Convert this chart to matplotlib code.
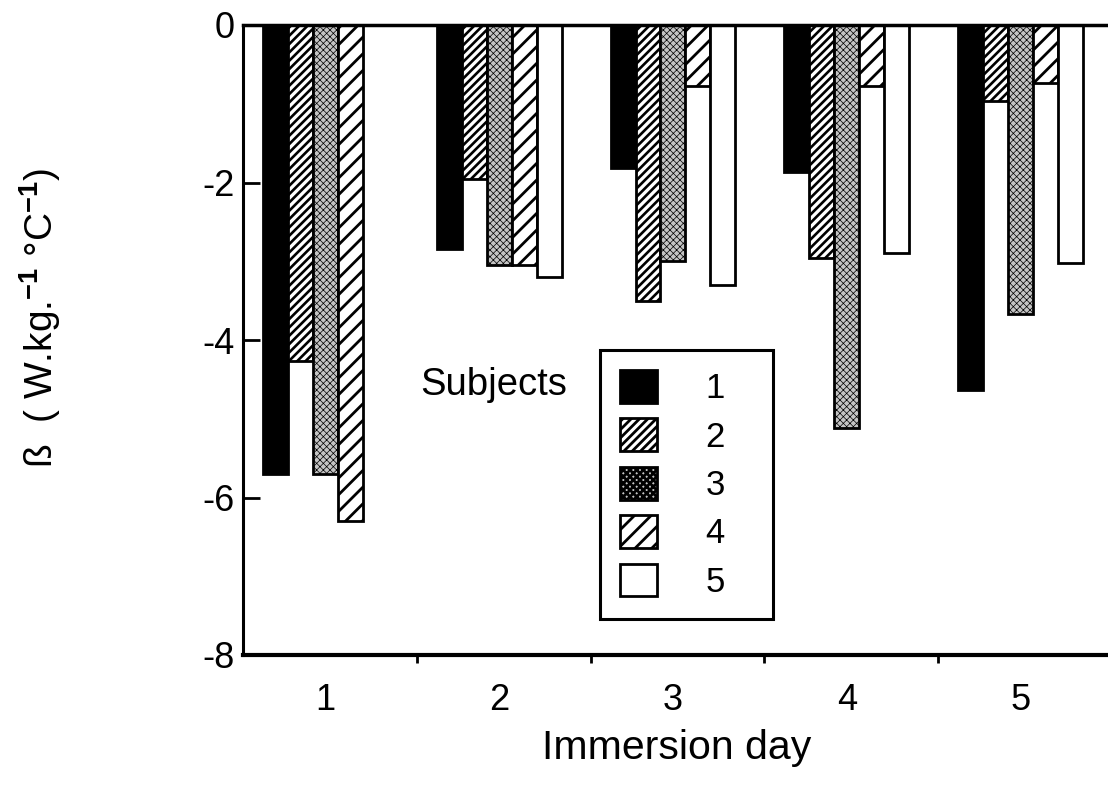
import matplotlib
matplotlib.use("Agg")
import matplotlib.pyplot as plt
import numpy as np

plt.rcParams['font.family'] = ['Liberation Sans', 'DejaVu Sans']
plt.rcParams['mathtext.fontset'] = 'custom'
plt.rcParams['mathtext.rm'] = 'Liberation Sans'
plt.rcParams['mathtext.bf'] = 'Liberation Sans:bold'
plt.rcParams['hatch.linewidth'] = 2.0

# beta per subject and immersion day (subject 5 has no value on day 1)
days = [1, 2, 3, 4, 5]
day_labels = ["1", "2", "3", "4", "5"]
subjects = ["1", "2", "3", "4", "5"]
subj1 = [-5.7, -2.85, -1.82, -1.87, -4.63]
subj2 = [-4.27, -1.95, -3.5, -2.96, -0.97]
subj3 = [-5.7, -3.05, -3.0, -5.12, -3.67]
subj4 = [-6.3, -3.05, -0.77, -0.77, -0.74]
subj5 = [np.nan, -3.2, -3.3, -2.9, -3.02]
yticks = [0, -2, -4, -6, -8]

series = [subj1, subj2, subj3, subj4, subj5]
faces = ["black", "white", "#c4c4c4", "white", "white"]
hatches = [None, "////", "xxxxx", "//", None]
hatch_lw = [2.0, 1.9, 0.5, 2.0, 2.0]

fig = plt.figure(figsize=(11.08, 7.91), dpi=100)
ax = fig.add_axes([243 / 1108, 136 / 791, 869 / 1108, 630 / 791])

w = 0.1437
x = np.array(days, dtype=float)
handles = []
for j, vals in enumerate(series):
    with plt.rc_context({'hatch.linewidth': hatch_lw[j]}):
        bars = ax.bar(x + (j - 2) * w, vals, width=w, color=faces[j],
                      edgecolor="black", linewidth=2, hatch=hatches[j],
                      label=subjects[j])
    for b in bars:
        if hasattr(b, "set_hatch_linewidth"):
            b.set_hatch_linewidth(hatch_lw[j])
    handles.append(bars)

ax.set_xlim(0.526, 5.526)
ax.set_ylim(-8, 0)

ax.set_yticks(yticks)
ax.set_yticklabels([str(t) for t in yticks])
ax.tick_params(axis='y', direction='in', length=12, width=2, pad=6, labelsize=26)

ax.set_xticks(x)
ax.set_xticklabels(day_labels)
ax.set_xticks(np.arange(1.526, 5.0, 1.0), minor=True)
ax.tick_params(axis='x', which='major', length=0, pad=20, labelsize=26)
ax.tick_params(axis='x', which='minor', direction='out', length=6, width=2)

ax.spines['right'].set_visible(False)
ax.spines['left'].set_linewidth(2.2)
ax.spines['bottom'].set_linewidth(3)
ax.spines['top'].set_linewidth(2.5)

ax.set_xlabel("Immersion day", fontsize=29.5, va='center')
ax.xaxis.set_label_coords(0.4994, -0.1476)
ax.set_ylabel(r"ß  ( W.kg.$^{\mathbf{-1}}$ °C$^{\mathbf{-1}}$)", fontsize=28,
              va='center', ha='center')
ax.yaxis.set_label_coords(-0.2336, 0.535)

leg = ax.legend(handles=handles, labels=subjects, loc='upper left',
                bbox_to_anchor=(600 / 1108, 1 - 619 / 791, 173 / 1108, 269 / 791),
                bbox_transform=fig.transFigure, mode='expand', borderaxespad=0,
                fontsize=25, handlelength=1.07, handleheight=1.07,
                labelspacing=0.38, handletextpad=1.38, borderpad=0.58,
                fancybox=False, framealpha=1, edgecolor='black')
leg.get_frame().set_linewidth(2.2)

fig.text(420 / 1108, 1 - 385 / 791, "Subjects", fontsize=27.5, va='center')

fig.savefig("out.png", dpi=100)
